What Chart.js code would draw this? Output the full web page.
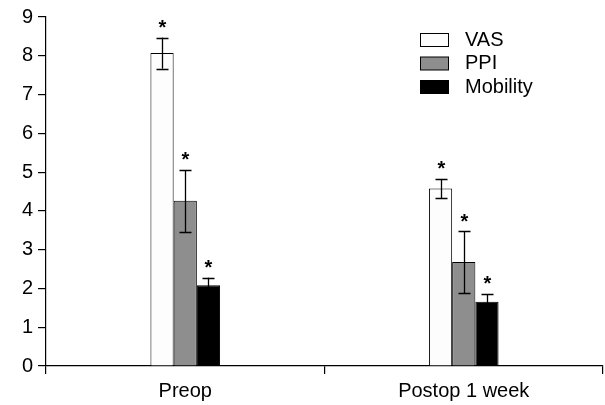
<!DOCTYPE html>
<html>
<head>
<meta charset="utf-8">
<script src="https://cdn.jsdelivr.net/npm/chart.js@4.4.0/dist/chart.umd.min.js"></script>
<style>
  body { margin: 0; background: #fff; }
  #wrap { width: 605px; height: 405px; }
</style>
</head>
<body>
<div id="wrap"><canvas id="chart" width="605" height="405"></canvas></div>
<script>
const categories = ['Preop', 'Postop 1 week'];
const seriesNames = ['VAS', 'PPI', 'Mobility'];
const vasMeans = [8.07, 4.58];
const ppiMeans = [4.26, 2.68];
const mobilityMeans = [2.08, 1.66];
const vasErrors = [0.4, 0.25];
const ppiErrors = [0.8, 0.8];
const mobilityErrors = [0.2, 0.2];
const yTicks = [0, 1, 2, 3, 4, 5, 6, 7, 8, 9];

const fills = ['#fdfdfd', '#8e8e8e', '#000000'];
const FONT = '"Liberation Sans", Arial, sans-serif';

const errorBars = {
    id: 'errorBars',
    afterDatasetsDraw(chart) {
        const ctx = chart.ctx;
        const y = chart.scales.y;
        ctx.save();
        ctx.strokeStyle = '#000';
        ctx.lineWidth = 1.3;
        ctx.fillStyle = '#000';
        ctx.font = 'bold 20px ' + FONT;
        ctx.textAlign = 'center';
        ctx.textBaseline = 'middle';
        chart.data.datasets.forEach((ds, i) => {
            chart.getDatasetMeta(i).data.forEach((bar, j) => {
                const v = ds.data[j];
                const e = ds.errors[j];
                const top = y.getPixelForValue(v + e);
                const bot = y.getPixelForValue(v - e);
                const x = Math.round(bar.x) + 0.5;
                ctx.beginPath();
                ctx.moveTo(x, top);
                ctx.lineTo(x, bot);
                ctx.moveTo(x - 6, Math.round(top) + 0.5);
                ctx.lineTo(x + 6, Math.round(top) + 0.5);
                ctx.moveTo(x - 6, Math.round(bot) + 0.5);
                ctx.lineTo(x + 6, Math.round(bot) + 0.5);
                ctx.stroke();
                ctx.fillText('*', x, top - 9);
            });
        });
        ctx.restore();
    }
};

const boxLegend = {
    id: 'boxLegend',
    afterDraw(chart) {
        const ctx = chart.ctx;
        ctx.save();
        ctx.font = '20px ' + FONT;
        ctx.textBaseline = 'middle';
        ctx.textAlign = 'left';
        seriesNames.forEach((name, i) => {
            const top = 33 + i * 23.5;
            ctx.fillStyle = fills[i];
            ctx.fillRect(420.5, top + 0.5, 28, 13);
            ctx.strokeStyle = '#000';
            ctx.lineWidth = 1;
            ctx.strokeRect(420.5, top + 0.5, 28, 13);
            ctx.fillStyle = '#000';
            ctx.fillText(name, 465, top + 7);
        });
        ctx.restore();
    }
};

const mk = (i, data, errors) => ({
    label: seriesNames[i],
    data: data,
    errors: errors,
    backgroundColor: fills[i],
    borderColor: '#000',
    borderWidth: 1,
    barPercentage: 1,
    categoryPercentage: 0.25
});

new Chart(document.getElementById('chart'), {
    type: 'bar',
    data: {
        labels: categories,
        datasets: [
            mk(0, vasMeans, vasErrors),
            mk(1, ppiMeans, ppiErrors),
            mk(2, mobilityMeans, mobilityErrors)
        ]
    },
    options: {
        responsive: false,
        animation: false,
        layout: { padding: { top: 3, right: 2, left: 0, bottom: 0 } },
        plugins: { legend: { display: false }, tooltip: { enabled: false } },
        scales: {
            x: {
                grid: { display: true, offset: true, drawOnChartArea: false, tickLength: 8, color: '#000', lineWidth: 1.2 },
                border: { display: true, color: '#000', width: 1.2 },
                ticks: { color: '#000', font: { family: FONT, size: 20 }, padding: 5 },
                afterFit(s) { s.height = 39; }
            },
            y: {
                min: 0,
                max: 9,
                afterBuildTicks(s) { s.ticks = yTicks.map(v => ({ value: v })); },
                grid: { display: true, drawOnChartArea: false, tickLength: 8, color: '#000', lineWidth: 1.2 },
                border: { display: true, color: '#000', width: 1.2 },
                ticks: { color: '#000', font: { family: FONT, size: 20 }, padding: 5 },
                afterFit(s) { s.width = 46; }
            }
        }
    },
    plugins: [errorBars, boxLegend]
});
</script>
</body>
</html>
